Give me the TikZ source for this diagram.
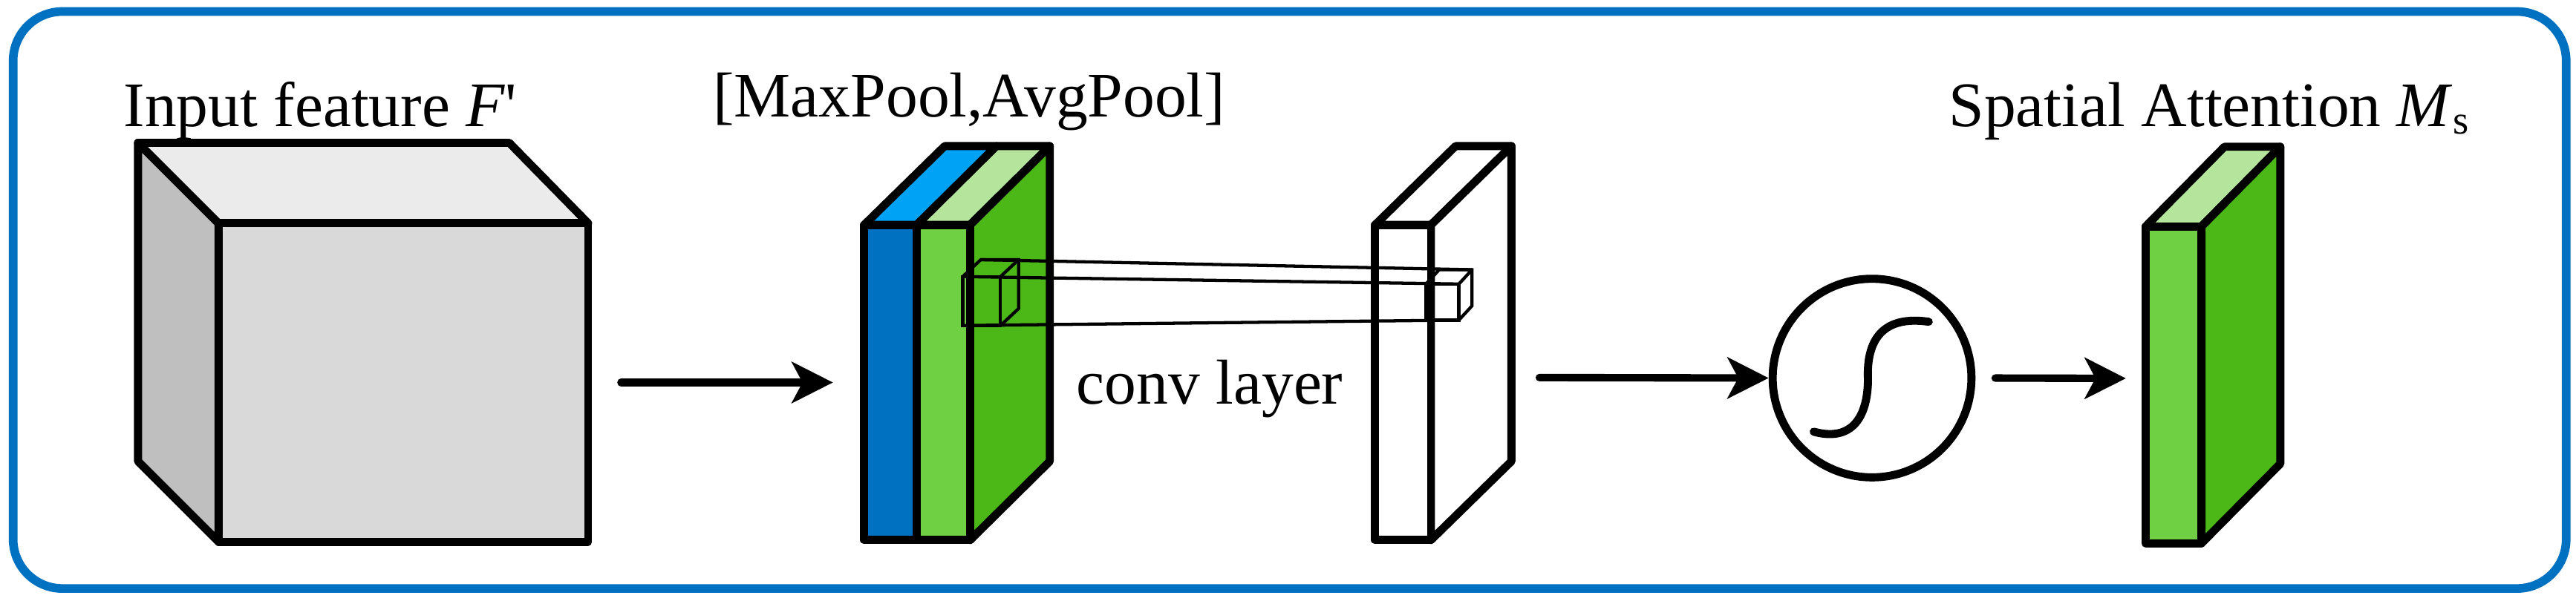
\documentclass[tikz,border=0pt]{standalone}
\usepackage{fontspec}
\setmainfont{Liberation Serif}
\usetikzlibrary{arrows.meta}
\definecolor{frameblue}{HTML}{0070C0}
\definecolor{bluefront}{HTML}{0070C0}
\definecolor{bluetop}{HTML}{00A2F5}
\definecolor{lgfront}{HTML}{70D044}
\definecolor{lgtop}{HTML}{B5E59C}
\definecolor{dgside}{HTML}{4CB818}
\definecolor{gfront}{HTML}{D9D9D9}
\definecolor{gtop}{HTML}{EBEBEB}
\definecolor{gside}{HTML}{BFBFBF}
\tikzset{
  blk/.style={draw=black,line width=2.8pt,line join=round},
  thin/.style={draw=black,line width=1.1pt},
  arr/.style={line width=2.6pt,line cap=round,-{Stealth[length=0.5cm,width=0.5cm,inset=0.13cm]}},
  lbl/.style={inner sep=0pt,font=\fontsize{22}{24}\selectfont},
}
\begin{document}
\begin{tikzpicture}[x=0.02cm,y=-0.02cm]
\useasboundingbox (0,0) rectangle (1568,366);
\draw[frameblue,line width=3pt,rounded corners=0.6cm] (8,7) rectangle (1562,358.5);
% labels
\node[lbl,anchor=base west] (t1) at (75,77) {Input feature \textit{F}\textquotesingle};
\node[lbl,anchor=base] (t2) at (590,71) {[MaxPool,AvgPool]};
\node[lbl,anchor=base west] (t3) at (1186,77) {Spatial Attention \textit{M}{\fontsize{14}{14}\selectfont\raisebox{-0.4ex}{s}}};
\node[lbl,anchor=base west] (t4) at (655,246) {conv layer};
% cube
\draw[blk,fill=gside] (84,87) -- (133,136) -- (133,330) -- (84,281) -- cycle;
\draw[blk,fill=gtop] (84,87) -- (310,87) -- (358,136) -- (133,136) -- cycle;
\draw[blk,fill=gfront] (133,136) rectangle (358,330);
% maxpool/avgpool block
\draw[blk,fill=bluetop] (526,137) -- (575,89) -- (606.5,89) -- (558,137) -- cycle;
\draw[blk,fill=lgtop] (558,137) -- (606.5,89) -- (639,89) -- (590.5,137) -- cycle;
\draw[blk,fill=dgside] (590.5,137) -- (639,89) -- (639,281) -- (590.5,329) -- cycle;
\draw[blk,fill=bluefront] (526,137) rectangle (558,329);
\draw[blk,fill=lgfront] (558,137) rectangle (590.5,329);
% white conv output block
\draw[blk,fill=white] (837,137) -- (886,89) -- (920,89) -- (871,137) -- cycle;
\draw[blk,fill=white] (871,137) -- (920,89) -- (920,281) -- (871,329) -- cycle;
\draw[blk,fill=white] (837,137) rectangle (871,329);
% conv kernel prism
\draw[thin] (586,168.5) rectangle (609,198.3);
\draw[thin] (586,168.5) -- (597,158.2) -- (620,158.2) -- (620,188) -- (609,198.3);
\draw[thin] (609,168.5) -- (620,158.2);
\draw[thin] (868,173) rectangle (888,195);
\draw[thin] (868,173) -- (876,164.3) -- (896,164.3) -- (896,186.3) -- (888,195);
\draw[thin] (888,173) -- (896,164.3);
\draw[thin] (597,158.2) -- (896,164.3);
\draw[thin] (586,168.5) -- (888,173);
\draw[thin] (586,198.3) -- (888,195);
% sigmoid
\node[draw,circle,line width=2.8pt,minimum size=2.42cm,inner sep=0pt] (sig) at (1139.5,230.3) {};
\draw[line width=2.8pt,line cap=round] (1104,263) .. controls (1130,270) and (1137,250) .. (1137,231) .. controls (1136,207) and (1146,192) .. (1174,196);
% result plate
\draw[blk,fill=lgtop] (1306,138) -- (1354,89.4) -- (1388,89.4) -- (1340,138) -- cycle;
\draw[blk,fill=dgside] (1340,138) -- (1388,89.4) -- (1388,282.5) -- (1340,331) -- cycle;
\draw[blk,fill=lgfront] (1306,138) rectangle (1340,331);
% arrows
\coordinate (a1s) at (378,233);
\coordinate (a1e) at (507,233);
\coordinate (a2s) at (937,230);
\coordinate (a3e) at (1294,230.5);
\draw[arr] (a1s) -- (a1e);
\draw[arr] (a2s) -- (sig.west);
\draw[arr] (sig.east) ++(12,0) coordinate (a3s) (a3s) -- (a3e);
\end{tikzpicture}
\end{document}
